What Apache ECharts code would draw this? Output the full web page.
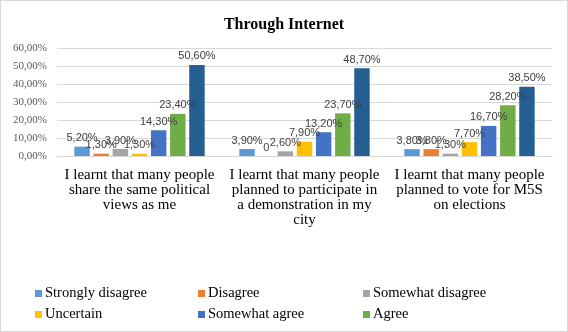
<!DOCTYPE html>
<html><head><meta charset="utf-8">
<script src="https://cdn.jsdelivr.net/npm/echarts@6/dist/echarts.min.js"></script>
<style>html,body{margin:0;padding:0;background:#fff}#c{width:566px;height:330px;border:1px solid #d9d9d9}</style>
</head><body><div id="c"></div>
<script>
const categories = ['I learnt that many people\nshare the same political\nviews as me','I learnt that many people\nplanned to participate in\na demonstration in my\ncity','I learnt that many people\nplanned to vote for M5S\non elections'];
const seriesNames = ['Strongly disagree','Disagree','Somewhat disagree','Uncertain','Somewhat agree','Agree','Strongly agree'];
const stronglyDisagree = [5.2, 3.9, 3.8];
const disagree = [1.3, 0, 3.8];
const somewhatDisagree = [3.9, 2.6, 1.3];
const uncertain = [1.3, 7.9, 7.7];
const somewhatAgree = [14.3, 13.2, 16.7];
const agree = [23.4, 23.7, 28.2];
const stronglyAgree = [50.6, 48.7, 38.5];
const values = [stronglyDisagree, disagree, somewhatDisagree, uncertain, somewhatAgree, agree, stronglyAgree];
const colors = ['#5B9BD5','#ED7D31','#A5A5A5','#FFC000','#4472C4','#70AD47','#255E91'];
const pct = v => v.toFixed(2).replace('.', ',') + '%';
const fmt = v => v === 0 ? '0' : pct(v);
const legendPos = [[29,280],[192,280],[357,280],[29,301],[192,301],[357,301]];
const chart = echarts.init(document.getElementById('c'));
chart.setOption({
  animation: false,
  color: colors,
  title: {text: 'Through Internet', left: 'center', top: 11,
    textStyle: {fontFamily: 'Liberation Serif', fontSize: 16, fontWeight: 'bold', color: '#000'}},
  legend: legendPos.map((p, i) => ({
    data: [seriesNames[i]], left: p[0], top: p[1], itemWidth: 7, itemHeight: 7, itemGap: 0,
    icon: 'rect', textStyle: {fontFamily: 'Liberation Serif', fontSize: 14.5, color: '#000', padding: [0,0,0,-2]},
    selectedMode: false
  })),
  grid: {left: 56, right: 15, top: 47, bottom: 175, containLabel: false},
  xAxis: {type: 'category', data: categories,
    axisLine: {lineStyle: {color: '#d9d9d9'}}, axisTick: {show: false},
    axisLabel: {interval: 0, fontFamily: 'Liberation Serif', fontSize: 15, color: '#000', lineHeight: 15, margin: 12}},
  yAxis: {type: 'value', min: 0, max: 60, interval: 10,
    axisLabel: {formatter: pct, fontFamily: 'Liberation Serif', fontSize: 11, color: '#595959', margin: 10},
    axisLine: {show: false}, axisTick: {show: false},
    splitLine: {lineStyle: {color: '#d9d9d9'}}},
  series: values.map((d, i) => ({
    name: seriesNames[i], type: 'bar', data: d,
    barGap: '24%', barCategoryGap: '21%',
    label: {show: true, position: 'top', formatter: p => fmt(p.value), distance: 3,
      fontFamily: 'Liberation Sans', fontSize: 11, color: '#404040'}
  }))
});
</script></body></html>
